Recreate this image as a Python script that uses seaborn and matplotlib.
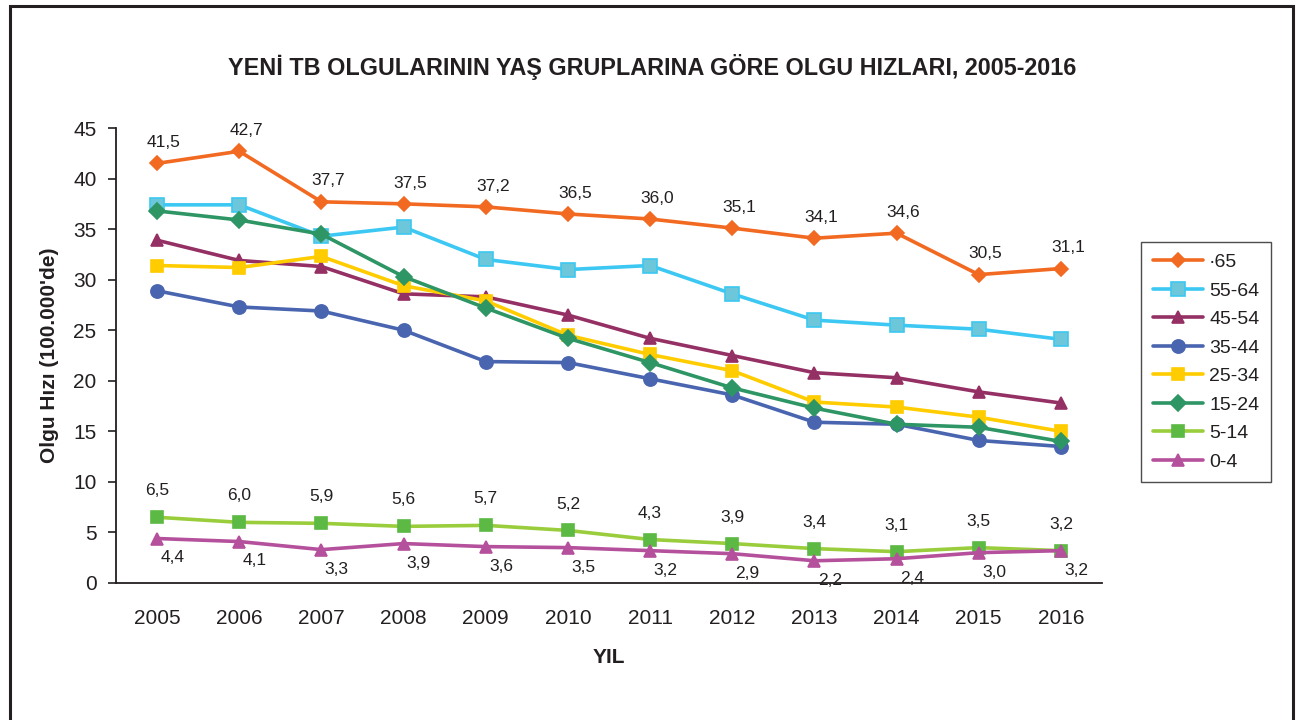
import matplotlib
matplotlib.use('Agg')
import matplotlib.pyplot as plt
from matplotlib.patches import Rectangle
import numpy as np
import pandas as pd
import seaborn as sn

years = [2005, 2006, 2007, 2008, 2009, 2010, 2011, 2012, 2013, 2014, 2015, 2016]
groups = ['·65', '55-64', '45-54', '35-44', '25-34', '15-24', '5-14', '0-4']

age_65 = [41.5, 42.7, 37.7, 37.5, 37.2, 36.5, 36.0, 35.1, 34.1, 34.6, 30.5, 31.1]
age_55_64 = [37.4, 37.4, 34.3, 35.2, 32.0, 31.0, 31.4, 28.6, 26.0, 25.5, 25.1, 24.1]
age_45_54 = [33.9, 31.9, 31.3, 28.6, 28.3, 26.5, 24.2, 22.5, 20.8, 20.3, 18.9, 17.8]
age_35_44 = [28.9, 27.3, 26.9, 25.0, 21.9, 21.8, 20.2, 18.6, 15.9, 15.7, 14.1, 13.5]
age_25_34 = [31.4, 31.2, 32.3, 29.4, 27.9, 24.5, 22.6, 21.0, 17.9, 17.4, 16.4, 15.0]
age_15_24 = [36.8, 35.9, 34.5, 30.3, 27.2, 24.2, 21.8, 19.3, 17.3, 15.7, 15.4, 14.0]
age_5_14 = [6.5, 6.0, 5.9, 5.6, 5.7, 5.2, 4.3, 3.9, 3.4, 3.1, 3.5, 3.2]
age_0_4 = [4.4, 4.1, 3.3, 3.9, 3.6, 3.5, 3.2, 2.9, 2.2, 2.4, 3.0, 3.2]

series = [age_65, age_55_64, age_45_54, age_35_44, age_25_34, age_15_24, age_5_14, age_0_4]

# line colour, marker face, marker edge, marker, marker size
styles = {
  '·65':   ('#F26A21', '#F26A21', '#F26A21', 'D', 7),
  '55-64': ('#3CC8F2', '#6CC7DA', '#3CC8F2', 's', 10),
  '45-54': ('#953064', '#953064', '#953064', '^', 9),
  '35-44': ('#4A65B0', '#4A65B0', '#4A65B0', 'o', 9.5),
  '25-34': ('#FFCC00', '#FFCC00', '#FFCC00', 's', 8),
  '15-24': ('#2E9564', '#2E9564', '#2E9564', 'D', 8),
  '5-14':  ('#9ACD3C', '#5BB944', '#5BB944', 's', 9),
  '0-4':   ('#B5519C', '#B5519C', '#B5519C', '^', 9),
}

# which series get value labels, with their offset (points)
label_offsets = {
  '·65': (5, 15),
  '5-14': (0, 19),
  '0-4': (11, -14),
}

sn.set_style('white')
plt.rcParams['font.family'] = ['Liberation Sans', 'DejaVu Sans']

fig = plt.figure(figsize=(13.05, 7.2), dpi=100)
ax = fig.add_axes([116/1305., 1 - 583/720., (1102-116)/1305., (583-128)/720.])

x_pos = np.arange(len(years))
for name, vals in zip(groups, series):
  lc, mfc, mec, mk, ms = styles[name]
  df = pd.DataFrame({'x': x_pos, 'y': vals})
  sn.lineplot(data=df, x='x', y='y', ax=ax, color=lc, lw=2.6, marker=mk,
              markersize=ms, markerfacecolor=mfc, markeredgecolor=mec,
              markeredgewidth=1.2, label=name)
  if name in label_offsets:
    dx, dy = label_offsets[name]
    for xi, v in zip(x_pos, vals):
      ax.annotate('{:.1f}'.format(v).replace('.', ','), (xi, v),
                  xytext=(dx, dy), textcoords='offset points',
                  ha='center', va='center', fontsize=12.5, color='#231F20')

ax.set_xlim(-0.5, len(years) - 0.5)
ax.set_ylim(0, 45)
ax.set_yticks(range(0, 46, 5))
ax.set_xticks(x_pos)
ax.set_xticklabels([str(y) for y in years])
ax.set_xticks(np.arange(-0.5, len(years), 1), minor=True)
ax.tick_params(axis='x', which='major', length=0, pad=19, labelsize=15, colors='#231F20')
ax.tick_params(axis='x', which='minor', length=6, width=1.2, direction='out', color='#231F20')
ax.tick_params(axis='y', which='major', length=6, width=1.2, direction='out', pad=8,
               labelsize=15, colors='#231F20', left=True)

for side in ['top', 'right']:
  ax.spines[side].set_visible(False)
for side in ['left', 'bottom']:
  ax.spines[side].set_color('#231F20')
  ax.spines[side].set_linewidth(1.3)

ax.set_xlabel('YIL', fontsize=15, fontweight='bold', labelpad=14, color='#231F20')
ax.set_ylabel('Olgu Hızı (100.000\'de)', fontsize=15, fontweight='bold', labelpad=10, color='#231F20')

fig.text(652/1305., 1 - 67/720., 'YENİ TB OLGULARININ YAŞ GRUPLARINA GÖRE OLGU HIZLARI, 2005-2016',
         ha='center', va='center', fontsize=16.8, fontweight='bold', color='#231F20')

leg = ax.legend(loc='upper left', bbox_to_anchor=(1141/1305., 1 - 242/720.),
                bbox_transform=fig.transFigure, borderaxespad=0, fontsize=14,
                frameon=True, fancybox=False, handlelength=2.6, labelspacing=0.56,
                borderpad=0.6, handletextpad=0.3)
leg.get_frame().set_edgecolor('#231F20')
leg.get_frame().set_linewidth(1.0)
for t in leg.get_texts():
  t.set_color('#231F20')

# outer frame of the figure
fig.patches.append(Rectangle((10/1305., -0.02), 1283/1305., 1.02 - 6/720., fill=False,
                             lw=2.2, edgecolor='#231F20', transform=fig.transFigure,
                             figure=fig))

fig.savefig('out.png', dpi=100)
